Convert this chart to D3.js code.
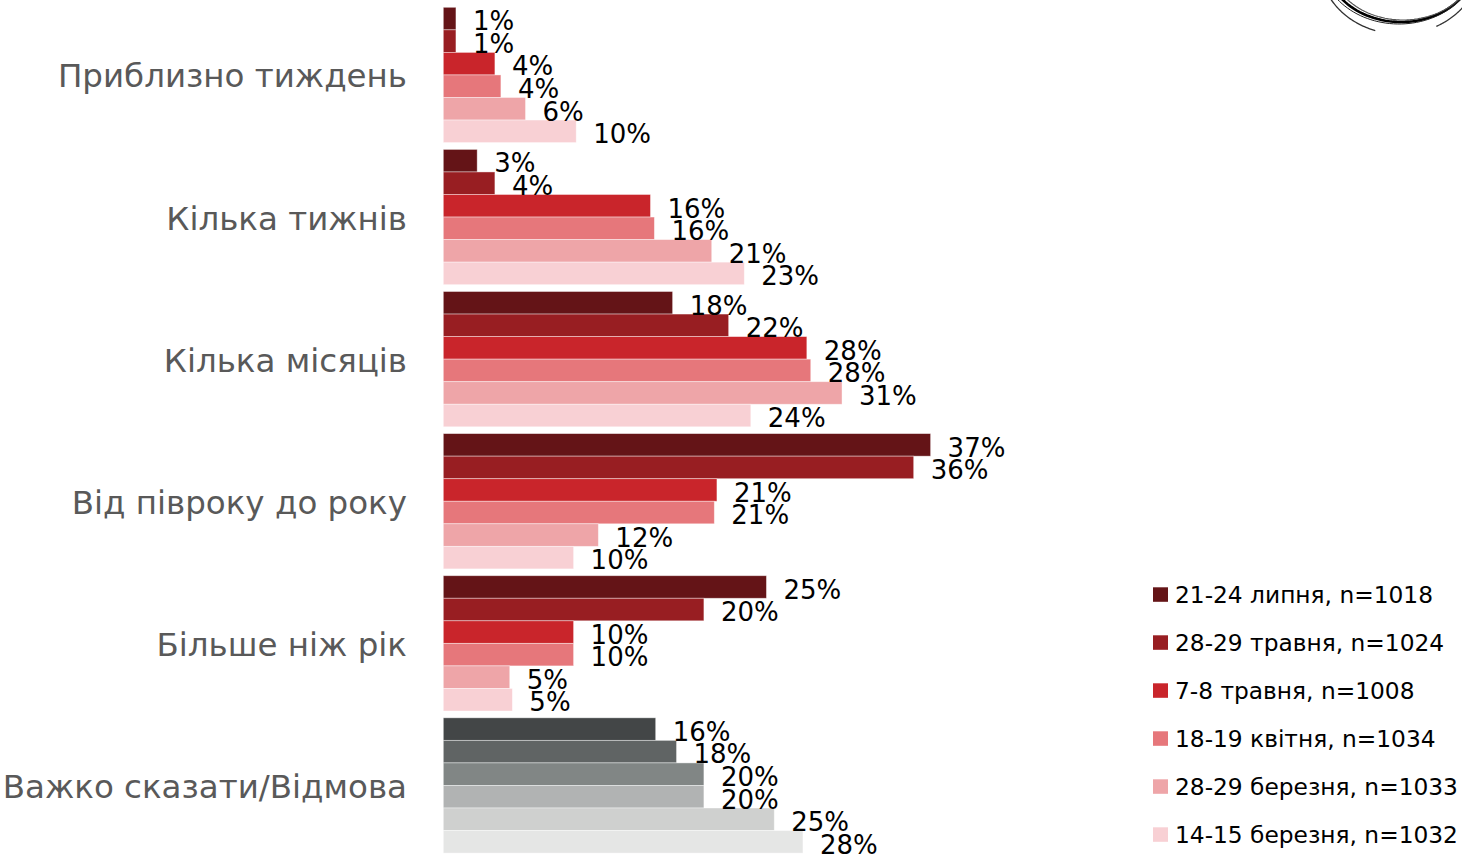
<!DOCTYPE html>
<html><head><meta charset="utf-8">
<script src="https://cdn.jsdelivr.net/npm/d3@7"></script>
<style>
html,body{margin:0;padding:0;background:#fff;}
svg{display:block;}
</style></head>
<body>
<svg id="chart" width="1462" height="855"></svg>
<script>
const categories = ["Приблизно тиждень","Кілька тижнів","Кілька місяців","Від півроку до року","Більше ніж рік","Важко сказати/Відмова"];
const seriesNames = ["21-24 липня, n=1018","28-29 травня, n=1024","7-8 травня, n=1008","18-19 квітня, n=1034","28-29 березня, n=1033","14-15 березня, n=1032"];
const jul2124 = [0.97, 2.6, 17.6, 37.4, 24.8, 16.3];
const may2829 = [0.97, 3.96, 21.9, 36.1, 20.0, 17.9];
const may78   = [3.96, 15.9, 27.9, 21.0, 10.0, 20.0];
const apr1819 = [4.42, 16.2, 28.2, 20.8, 10.0, 20.0];
const mar2829 = [6.31, 20.6, 30.6, 11.9, 5.1, 25.4];
const mar1415 = [10.2, 23.1, 23.6, 10.0, 5.3, 27.6];
const seriesValues = [jul2124, may2829, may78, apr1819, mar2829, mar1415];
const redColors = ["#641417","#981e22","#c9252b","#e6777b","#eea5a8","#f8d0d4"];
const greyColors = ["#434647","#606464","#818685","#b1b3b3","#cfd0cf","#e5e6e5"];

const svg = d3.select("#chart");
const x = d3.scaleLinear().domain([0, 40]).range([443.3, 443.3 + 40*13.03]);
const y0 = d3.scaleBand().domain(categories).range([7.3, 853.1]).paddingInner(0.048).paddingOuter(0);
const y1 = d3.scaleBand().domain(d3.range(seriesNames.length)).range([0, y0.bandwidth()]).padding(0);

const rows = [];
categories.forEach((c, ci) => {
  seriesNames.forEach((s, si) => {
    rows.push({cat: c, ci, si, v: seriesValues[si][ci]});
  });
});

const g = svg.append("g");
g.selectAll("rect.bar").data(rows).join("rect")
  .attr("class","bar")
  .attr("x", x(0))
  .attr("y", d => y0(d.cat) + y1(d.si))
  .attr("width", d => x(d.v) - x(0))
  .attr("height", y1.bandwidth())
  .attr("fill", d => d.ci === categories.length - 1 ? greyColors[d.si] : redColors[d.si])
  .attr("stroke", "#ffffff").attr("stroke-opacity", 0.5).attr("stroke-width", 0.8);

g.selectAll("text.val").data(rows).join("text")
  .attr("class","val")
  .attr("x", d => x(d.v) + 17)
  .attr("y", d => y0(d.cat) + y1(d.si) + y1.bandwidth() + 0.5)
  .attr("font-family", "DejaVu Sans, Verdana, sans-serif")
  .attr("font-size", 26)
  .attr("fill", "#000")
  .text(d => Math.round(d.v) + "%");

svg.append("g").selectAll("text.cat").data(categories).join("text")
  .attr("class","cat")
  .attr("x", 407)
  .attr("y", d => y0(d) + y0.bandwidth()/2 + 12.5)
  .attr("text-anchor","end")
  .attr("font-family", "DejaVu Sans, Verdana, sans-serif")
  .attr("font-size", 32.5)
  .attr("fill", "#595959")
  .text(d => d);

const leg = svg.append("g").selectAll("g").data(seriesNames).join("g")
  .attr("transform", (d,i) => `translate(1153,${587.3 + i*48})`);
leg.append("rect").attr("width", 15).attr("height", 14.5).attr("fill", (d,i) => redColors[i]);
leg.append("text").attr("x", 22).attr("y", 16)
  .attr("font-family", "DejaVu Sans, Verdana, sans-serif")
  .attr("font-size", 23.3).attr("fill", "#000").text(d => d);

// logo arcs at top-right
function ellPath(cx, cy, rx, ry, a0, a1) {
  const pts = d3.range(a0, a1 + 0.001, (a1 - a0) / 60).map(t => [cx + rx*Math.cos(t), cy + ry*Math.sin(t)]);
  return d3.line()(pts);
}
const logo = svg.append("g").attr("fill","none").attr("stroke","#000");
logo.append("path").attr("d", ellPath(1401,-38,75,60,0,Math.PI)).attr("stroke-width",2.6);
logo.append("path").attr("d", ellPath(1403,-36,72,56,0.1,Math.PI)).attr("stroke-width",1.2).attr("stroke","#555");
logo.append("path").attr("d", ellPath(1399,-40,78,64,0,Math.PI*0.95)).attr("stroke-width",1).attr("stroke","#222");
logo.append("path").attr("d", ellPath(1400,-36,80,70,Math.PI*0.6,Math.PI)).attr("stroke-width",1.3).attr("stroke","#333");
logo.append("path").attr("d", ellPath(1400,-36,80,70,0.1,Math.PI*0.35)).attr("stroke-width",1.3).attr("stroke","#333");
</script>
</body></html>
